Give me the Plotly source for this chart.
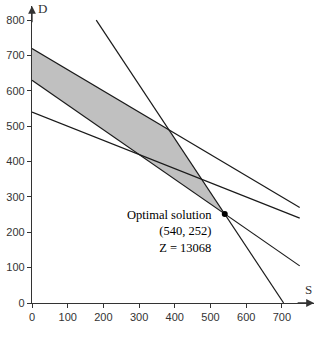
import plotly.graph_objects as go

# constraint lines (endpoints)
line1_S = [0, 750]; line1_D = [720, 270]
line2_S = [0, 750]; line2_D = [630, 105]
line3_S = [0, 750]; line3_D = [540, 240]
line4_S = [180, 705]; line4_D = [800, 0]

# feasible region vertices
region_S = [0, 383.5, 540, 0]
region_D = [720, 490, 252, 630]

opt_S = [540]; opt_D = [252]
opt_text = "Optimal solution<br>(540, 252)<br>Z = 13068"

xticks = [0, 100, 200, 300, 400, 500, 600, 700]
yticks = [0, 100, 200, 300, 400, 500, 600, 700, 800]

fig = go.Figure()
fig.add_trace(go.Scatter(x=region_S + [region_S[0]], y=region_D + [region_D[0]],
                         fill="toself", fillcolor="#c0c0c0", mode="lines",
                         line=dict(width=0), hoverinfo="skip"))
for xs, ys in [(line1_S, line1_D), (line2_S, line2_D), (line3_S, line3_D), (line4_S, line4_D)]:
    fig.add_trace(go.Scatter(x=xs, y=ys, mode="lines", line=dict(color="#1a1a1a", width=1.2)))
fig.add_trace(go.Scatter(x=opt_S, y=opt_D, mode="markers",
                         marker=dict(color="black", size=6)))

serif = "Liberation Serif, Times New Roman, serif"
fig.add_annotation(x=opt_S[0] - 30, y=opt_D[0] + 22, text=opt_text, showarrow=False,
                   xanchor="right", yanchor="top", align="right",
                   font=dict(family=serif, size=12.5, color="black"))
# axis arrows
fig.add_annotation(x=0, y=840, ax=0, ay=790, axref="x", ayref="y", xref="x", yref="y",
                   text="", showarrow=True, arrowhead=2, arrowsize=1.2, arrowwidth=1.3, arrowcolor="#333")
fig.add_annotation(x=790, y=0, ax=740, ay=0, axref="x", ayref="y", xref="x", yref="y",
                   text="", showarrow=True, arrowhead=2, arrowsize=1.2, arrowwidth=1.3, arrowcolor="#333")
fig.add_annotation(x=12, y=832, text="D", showarrow=False, xanchor="left", yanchor="middle",
                   font=dict(family=serif, size=13, color="#333"))
fig.add_annotation(x=775, y=10, text="S", showarrow=False, xanchor="center", yanchor="bottom",
                   font=dict(family=serif, size=13, color="#333"))

axis_common = dict(showgrid=False, zeroline=False, showline=True, linecolor="#333", linewidth=1.3,
                   ticks="outside", ticklen=4, tickcolor="#333", tickwidth=1,
                   tickfont=dict(family="Liberation Sans, Arial, sans-serif", size=11, color="#333"))
fig.update_xaxes(range=[0, 790], tickvals=xticks, **axis_common)
fig.update_yaxes(range=[0, 840], tickvals=yticks, **axis_common)
fig.update_layout(width=330, height=340, margin=dict(l=32, r=16, t=6, b=37),
                  plot_bgcolor="white", paper_bgcolor="white", showlegend=False)
fig.write_html("out.html")
